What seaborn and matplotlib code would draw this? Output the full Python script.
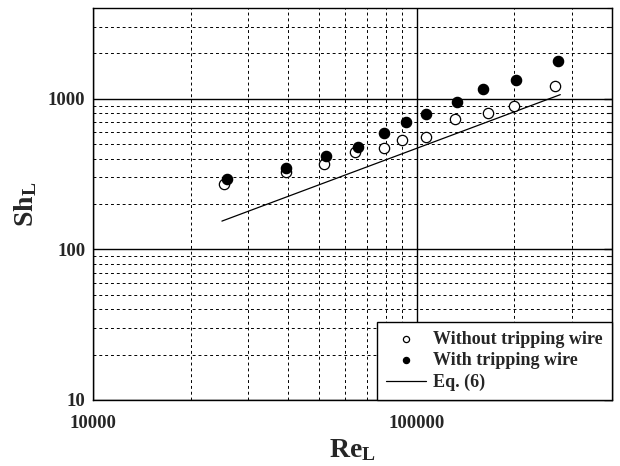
import numpy as np
import pandas as pd
import matplotlib
matplotlib.use("Agg")
import matplotlib.pyplot as plt
import seaborn as sns
from matplotlib.ticker import LogLocator, NullFormatter, FixedLocator, FixedFormatter

# data
re_without = [25400, 39400, 51600, 64200, 78900, 89700, 106400, 131300, 165400, 200000, 266000]
sh_without = [272, 327, 366, 442, 468, 530, 556, 736, 799, 891, 1211]
re_with = [25900, 39500, 52300, 65800, 79300, 92700, 106400, 133200, 160300, 201900, 272300]
sh_with = [293, 349, 415, 478, 594, 698, 791, 953, 1162, 1324, 1781]
eq_re = [25000, 277000]
eq_sh = [154, 1064]

sns.set_style("white")
plt.rcParams['font.family'] = ['Liberation Serif', 'DejaVu Serif']
plt.rcParams['mathtext.fontset'] = 'custom'
plt.rcParams['mathtext.bf'] = 'Liberation Serif:bold'
plt.rcParams['mathtext.rm'] = 'Liberation Serif'

df_wo = pd.DataFrame({'Re': re_without, 'Sh': sh_without})
df_w = pd.DataFrame({'Re': re_with, 'Sh': sh_with})
df_eq = pd.DataFrame({'Re': eq_re, 'Sh': eq_sh})

fig = plt.figure(figsize=(6.2, 4.66), dpi=100)
ax = fig.add_axes([93/620, 66/466, 519/620, 392/466])

ax.set_xscale('log')
ax.set_yscale('log')
ax.set_xlim(10000, 400000)
ax.set_ylim(10, 4000)

sns.lineplot(x='Re', y='Sh', data=df_eq, color='black', lw=0.9, ax=ax,
             label='Eq. (6)', zorder=3)
sns.scatterplot(x='Re', y='Sh', data=df_wo, marker='o', s=55, facecolor='white',
                edgecolor='black', linewidth=0.9, ax=ax, label='Without tripping wire', zorder=4)
sns.scatterplot(x='Re', y='Sh', data=df_w, marker='o', s=55, color='black',
                edgecolor='black', linewidth=0.9, ax=ax, label='With tripping wire', zorder=4)

sub = np.arange(2, 10)
ax.xaxis.set_major_locator(FixedLocator([10000, 100000]))
ax.xaxis.set_major_formatter(FixedFormatter(['10000', '100000']))
ax.xaxis.set_minor_locator(LogLocator(base=10, subs=sub))
ax.xaxis.set_minor_formatter(NullFormatter())
ax.yaxis.set_major_locator(FixedLocator([10, 100, 1000]))
ax.yaxis.set_major_formatter(FixedFormatter(['10', '100', '1000']))
ax.yaxis.set_minor_locator(LogLocator(base=10, subs=sub))
ax.yaxis.set_minor_formatter(NullFormatter())

ax.grid(which='major', color='black', linestyle='-', linewidth=1.0)
ax.grid(which='minor', color='black', linestyle=(0, (3, 3)), linewidth=0.7)
ax.set_axisbelow(True)

ax.tick_params(which='major', direction='inout', length=11, width=1, labelsize=13.5)
ax.tick_params(axis='x', which='major', pad=5)
ax.tick_params(axis='y', which='major', pad=0)
ax.tick_params(which='minor', direction='inout', length=6, width=0.8)
for lab in ax.get_xticklabels() + ax.get_yticklabels():
    lab.set_fontweight('bold')
for sp in ax.spines.values():
    sp.set_color('black')
    sp.set_linewidth(1.0)

# inward ticks on the right edge
sec = ax.secondary_yaxis('right')
sec.yaxis.set_major_locator(FixedLocator([10, 100, 1000]))
sec.yaxis.set_minor_locator(LogLocator(base=10, subs=sub))
sec.yaxis.set_major_formatter(NullFormatter())
sec.yaxis.set_minor_formatter(NullFormatter())
sec.tick_params(which='major', direction='in', length=6, width=1)
sec.tick_params(which='minor', direction='in', length=3.5, width=0.8)

ax.set_xlabel(r'$\mathbf{Re_L}$', fontsize=20, labelpad=4)
ax.set_ylabel(r'$\mathbf{Sh_L}$', fontsize=20, labelpad=6)

h, l = ax.get_legend_handles_labels()
order = [1, 2, 0]
leg = ax.legend([h[i] for i in order], [l[i] for i in order], loc='lower right',
                frameon=True, fancybox=False, edgecolor='black', framealpha=1,
                prop={'weight': 'bold', 'size': 13}, borderaxespad=0,
                handlelength=2.2, labelspacing=0.25, markerscale=0.6,
                borderpad=0.5, handletextpad=0.4)
leg.get_frame().set_linewidth(1.0)

plt.savefig('out.png', dpi=100)
